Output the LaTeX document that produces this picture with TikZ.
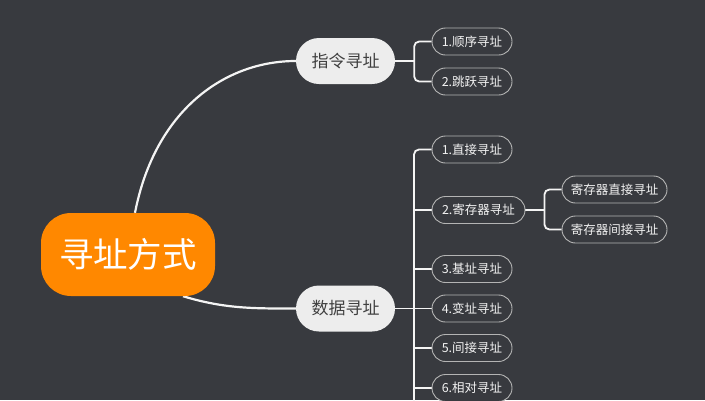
\documentclass[tikz,border=0pt]{standalone}
\usepackage{fontspec}
\setmainfont{Noto Sans CJK SC}
\usetikzlibrary{backgrounds}
\begin{document}
\begin{tikzpicture}[x=1pt,y=-1pt,
  conn/.style={draw=linec,line width=2.2pt},
  branch/.style={draw=linec,line width=1.8pt,rounded corners=5pt},
  rootbox/.style={fill=rootc,text=white,minimum width=174pt,minimum height=83pt,inner sep=0pt,rounded corners=30pt,font=\fontsize{34.5}{36}\selectfont},
  mainbox/.style={fill=mainc,text=maintext,minimum width=99pt,minimum height=46pt,inner sep=0pt,rounded corners=23pt,font=\fontsize{17}{19}\selectfont},
  leafbox/.style={fill=bgc,draw=leafborder,line width=0.9pt,text=leaftext,minimum width=80pt,minimum height=27pt,inner sep=0pt,rounded corners=13.5pt,font=\fontsize{12.5}{14}\selectfont},
]
\definecolor{bgc}{HTML}{383A3F}
\definecolor{rootc}{HTML}{FF8800}
\definecolor{mainc}{HTML}{EDEDED}
\definecolor{maintext}{HTML}{404040}
\definecolor{leafborder}{HTML}{B4B4B4}
\definecolor{leaftext}{HTML}{F2F2F2}
\definecolor{linec}{HTML}{F4F4F4}
\useasboundingbox (0,0) rectangle (705,400);
\clip (0,0) rectangle (705,400);

\node[rootbox] (root) at (128,254.5) {寻址方式};
\node[mainbox] (zl) at (345.5,61) {指令寻址};
\node[mainbox] (sj) at (345.5,308.5) {数据寻址};

\node[leafbox] (a1) at (472,41.5) {1.顺序寻址};
\node[leafbox] (a2) at (472,81.5) {2.跳跃寻址};

\node[leafbox] (d1) at (472,149.5) {1.直接寻址};
\node[leafbox,minimum width=93pt] (d2) at (478.5,210) {2.寄存器寻址};
\node[leafbox] (d3) at (472,269) {3.基址寻址};
\node[leafbox] (d4) at (472,308.5) {4.变址寻址};
\node[leafbox] (d5) at (472,348) {5.间接寻址};
\node[leafbox] (d6) at (472,388) {6.相对寻址};

\node[leafbox,minimum width=105pt] (r1) at (614.5,189.5) {寄存器直接寻址};
\node[leafbox,minimum width=105pt] (r2) at (614.5,229.5) {寄存器间接寻址};

\coordinate (trunkend) at (414,412);

\begin{scope}[on background layer]
\fill[bgc] (0,0) rectangle (705,400);
% main curves
\draw[conn] ([xshift=7pt]root.north) .. controls (155,110) and (225,61) .. (zl.west);
\draw[conn] ([xshift=55pt]root.south) .. controls (225,309) and (255,308.5) .. (sj.west);

% instruction branch
\draw[branch] (zl.east) -- ([xshift=19pt]zl.east);
\draw[branch] (a1.west) -| ([xshift=19pt]zl.east) |- (a2.west);

% data branch
\draw[branch] (sj.east) -- (sj.east -| trunkend);
\draw[branch] (d1.west) -| (trunkend);
\foreach \n in {d2,d3,d4,d5,d6} \draw[branch] (\n.west) -- (\n.west -| trunkend);

% register branch
\draw[branch] (d2.east) -- ([xshift=19pt]d2.east);
\draw[branch] (r1.west) -| ([xshift=19pt]d2.east) |- (r2.west);
\end{scope}
\end{tikzpicture}
\end{document}
